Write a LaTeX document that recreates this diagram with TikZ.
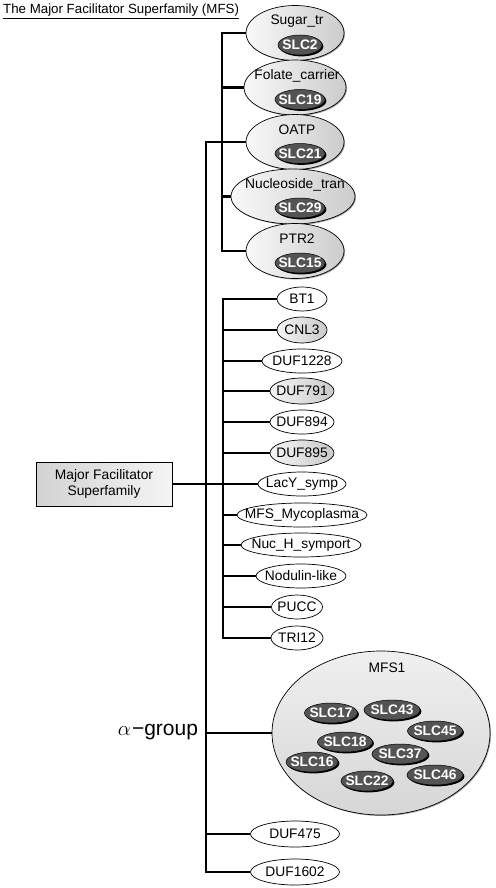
\documentclass[tikz,border=0pt]{standalone}
\usepackage{fontspec}
\setmainfont{Liberation Sans}
\usetikzlibrary{shapes.geometric,shadows}
\definecolor{slcfill}{gray}{0.33}
\newcommand\slcbox[1]{\makebox[0pt]{#1}}
\begin{document}
\begin{tikzpicture}[x=1pt,y=-1pt,
  every node/.style={font=\fontsize{13.8}{16}\selectfont},
  bar/.style={line width=2.8pt, line cap=rect},
  branch/.style={line width=2.8pt},
  famell/.style={ellipse, draw=black, line width=0.7pt, inner sep=0pt, minimum height=55pt,
    left color=gray!5, right color=gray!40,
    drop shadow={shadow xshift=1pt, shadow yshift=-1pt, fill=gray!70, opacity=1}},
  famtxt/.style={inner sep=0pt},
  slc/.style={ellipse, draw=black, line width=0.5pt, fill=slcfill, inner sep=0pt,
    minimum width=50pt, minimum height=20pt, text=white, font=\fontsize{13.8}{16}\selectfont\bfseries,
    drop shadow={shadow xshift=1.4pt, shadow yshift=-1.4pt, fill=black, opacity=1}},
  wsm/.style={ellipse, draw=black, line width=0.7pt, inner sep=0pt, minimum height=24pt, fill=white},
  gsm/.style={ellipse, draw=black, line width=0.7pt, inner sep=0pt, minimum height=26pt,
    left color=gray!8, right color=gray!42},
]
\useasboundingbox (0,0) rectangle (495,888);

% title
\node[anchor=base west, inner sep=0pt, font=\fontsize{13.3}{16}\selectfont] (title) at (3,14) {\underline{The Major Facilitator Superfamily (MFS)}};

% main box
\node[draw=black, line width=0.7pt, minimum width=136pt, minimum height=44pt, align=center,
  left color=gray!35, right color=gray!8,
  drop shadow={shadow xshift=1pt, shadow yshift=-1pt, fill=gray!70, opacity=1}] (box) at (104,484)
  {Major Facilitator\\Superfamily};

% alpha-group label
\node[font=\fontsize{21}{24}\selectfont, inner sep=0pt] (alpha) at (158,732) {$\alpha$\kern1pt−group};

% group 1
\node[famell, minimum width=98pt] (sugar) at (295,33) {};
\node[famtxt] (sugarT) at (297,21) {Sugar\_tr};
\node[slc, minimum width=44pt] (slc2) at (300,45) {\slcbox{SLC2}};

\node[famell, minimum width=102pt] (folate) at (295,87.5) {};
\node[famtxt] (folateT) at (297,76) {Folate\_carrier};
\node[slc] (slc19) at (300,99.5) {\slcbox{SLC19}};

\node[famell, minimum width=98pt] (oatp) at (295,142) {};
\node[famtxt] (oatpT) at (297,130) {OATP};
\node[slc] (slc21) at (300,153.5) {\slcbox{SLC21}};

\node[famell, minimum width=124pt] (nucl) at (293,196.5) {};
\node[famtxt] (nuclT) at (295,185) {Nucleoside\_tran};
\node[slc] (slc29) at (300,208) {\slcbox{SLC29}};

\node[famell, minimum width=98pt] (ptr) at (295,251) {};
\node[famtxt] (ptrT) at (297,239) {PTR2};
\node[slc] (slc15) at (300,263) {\slcbox{SLC15}};

% group 2
\node[wsm, minimum width=50pt] (bt1) at (302,299) {\slcbox{BT1}};
\node[gsm, minimum width=50pt] (cnl3) at (302,330) {\slcbox{CNL3}};
\node[wsm, minimum width=80pt] (duf1228) at (302,361) {\slcbox{DUF1228}};
\node[gsm, minimum width=64pt] (duf791) at (302,391) {\slcbox{DUF791}};
\node[wsm, minimum width=64pt] (duf894) at (302,422) {\slcbox{DUF894}};
\node[gsm, minimum width=64pt] (duf895) at (302,453) {\slcbox{DUF895}};
\node[wsm, minimum width=88pt] (lacy) at (302,484) {\slcbox{LacY\_symp}};
\node[wsm, minimum width=130pt] (mfsmyc) at (302,515) {\slcbox{MFS\_Mycoplasma}};
\node[wsm, minimum width=120pt] (nuch) at (301,545) {\slcbox{Nuc\_H\_symport}};
\node[wsm, minimum width=90pt] (nodulin) at (301,576) {\slcbox{Nodulin-like}};
\node[wsm, minimum width=51pt] (pucc) at (297,607) {\slcbox{PUCC}};
\node[wsm, minimum width=52pt] (tri12) at (297,638) {\slcbox{TRI12}};

% MFS1
\node[ellipse, draw=black, line width=0.7pt, inner sep=0pt, minimum width=218pt, minimum height=164pt,
  top color=gray!12, bottom color=gray!32,
  drop shadow={shadow xshift=1pt, shadow yshift=-1pt, fill=gray!70, opacity=1}] (mfs1) at (381,733) {};
\node[famtxt] (mfs1T) at (387,668) {MFS1};
\node[slc, minimum width=53pt] (slc17) at (331,713) {\slcbox{SLC17}};
\node[slc, minimum width=56pt] (slc43) at (392,710) {\slcbox{SLC43}};
\node[slc, minimum width=55pt] (slc45) at (435,731) {\slcbox{SLC45}};
\node[slc, minimum width=55pt] (slc18) at (345,742) {\slcbox{SLC18}};
\node[slc, minimum width=56pt] (slc37) at (400,754) {\slcbox{SLC37}};
\node[slc, minimum width=52pt] (slc16) at (312,762) {\slcbox{SLC16}};
\node[slc, minimum width=52pt] (slc22) at (367,781) {\slcbox{SLC22}};
\node[slc, minimum width=56pt] (slc46) at (435,775) {\slcbox{SLC46}};

% bottom families
\node[wsm, minimum width=89pt, minimum height=26pt] (duf475) at (295,834) {\slcbox{DUF475}};
\node[wsm, minimum width=89pt, minimum height=26pt] (duf1602) at (295,872) {\slcbox{DUF1602}};

% connectors
\coordinate (g1top) at (222,33);
\coordinate (g1bot) at (222,251);
\coordinate (trtop) at (206,142);
\coordinate (trbot) at (206,872);
\coordinate (g2top) at (223,299);
\coordinate (g2bot) at (223,638);

\draw[bar] (g1top) -- (g1bot);
\draw[bar] (trtop) -- (trbot);
\draw[bar] (g2top) -- (g2bot);
\foreach \n in {sugar,folate,nucl,ptr}
  \draw[branch] (\n.west -| g1top) -- (\n.west);
\draw[branch] (trtop) -- (oatp.west);
\foreach \n in {bt1,cnl3,duf1228,duf791,duf894,duf895,mfsmyc,nuch,nodulin,pucc,tri12}
  \draw[branch] (\n.west -| g2top) -- (\n.west);
\draw[branch] (box.east) -- (lacy.west);
\draw[branch] (mfs1.west -| trtop) -- (mfs1.west);
\draw[branch] (duf475.west -| trtop) -- (duf475.west);
\draw[branch] (trbot) -- (duf1602.west);
\end{tikzpicture}
\end{document}
